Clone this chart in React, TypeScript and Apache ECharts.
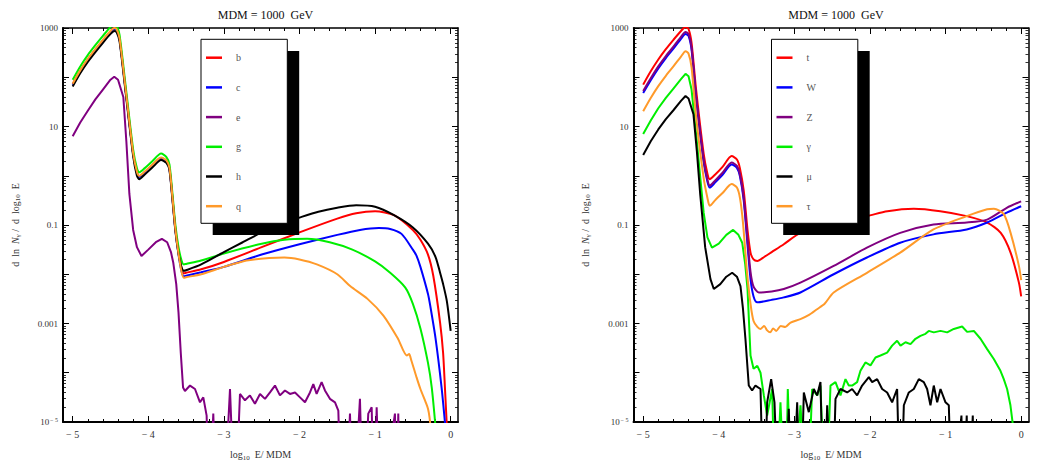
import React, { useEffect, useRef } from "react";
import * as echarts from "echarts";

// ---------- data (x = log10 E/MDM, value = log10 of dN/dlog10E) ----------
const TITLE = "MDM = 1000  GeV";
const X_MAJOR = [-5, -4, -3, -2, -1, 0];
const X_MINOR = [-4.8, -4.6, -4.4, -4.2, -3.8, -3.6, -3.4, -3.2, -2.8, -2.6, -2.4, -2.2, -1.8, -1.6, -1.4, -1.2, -0.8, -0.6, -0.4, -0.2];
const Y_LABELS: Record<string, string> = { "3": "1000", "1": "10", "-1": "0.1", "-3": "0.001", "-5": "10{sup|− 5}" };

const LEFT_NAMES = ["b", "c", "e", "g", "h", "q"];
const RIGHT_NAMES = ["t", "W", "Z", "γ", "μ", "τ"];
const COLORS = ["#ff0000", "#0000ff", "#800080", "#00ee00", "#000000", "#ff9a2a"];
const RIGHT_COLORS = ["#ff0000", "#0000ff", "#800080", "#00ee00", "#000000", "#ff9a2a"];

const seriesB: [number, number][] = [[-5.0,1.86],[-4.9,2.13],[-4.8,2.36],[-4.7,2.56],[-4.6,2.75],[-4.5,2.93],[-4.45,2.99],[-4.42,2.97],[-4.38,2.78],[-4.3,1.75],[-4.2,0.45],[-4.15,0.07],[-4.12,-0.01],[-4.05,0.07],[-3.95,0.21],[-3.83,0.36],[-3.76,0.3],[-3.72,0.15],[-3.68,-0.45],[-3.64,-1.1],[-3.6,-1.55],[-3.56,-1.88],[-3.53,-1.98],[-3.5,-1.97],[-3.3,-1.9],[-3.0,-1.75],[-2.5,-1.45],[-2.0,-1.15],[-1.5,-0.87],[-1.25,-0.76],[-1.0,-0.72],[-0.75,-0.8],[-0.5,-1.1],[-0.4,-1.3],[-0.3,-1.6],[-0.23,-2.03],[-0.14,-2.98],[-0.1,-3.6],[-0.075,-4.33],[-0.05,-5.1]];
const seriesC: [number, number][] = [[-5.0,1.85],[-4.9,2.12],[-4.8,2.35],[-4.7,2.55],[-4.6,2.74],[-4.5,2.92],[-4.45,2.98],[-4.42,2.96],[-4.38,2.77],[-4.3,1.74],[-4.2,0.44],[-4.15,0.06],[-4.12,-0.02],[-4.05,0.06],[-3.95,0.2],[-3.83,0.35],[-3.76,0.29],[-3.72,0.14],[-3.68,-0.46],[-3.64,-1.12],[-3.6,-1.6],[-3.56,-1.94],[-3.53,-2.04],[-3.5,-2.03],[-3.3,-1.96],[-3.0,-1.85],[-2.5,-1.6],[-2.0,-1.39],[-1.5,-1.2],[-1.2,-1.1],[-0.95,-1.06],[-0.8,-1.08],[-0.65,-1.18],[-0.5,-1.5],[-0.45,-1.63],[-0.4,-1.85],[-0.3,-2.4],[-0.27,-2.64],[-0.2,-3.3],[-0.12,-4.3],[-0.07,-5.1]];
const seriesE: [number, number][] = [[-5.0,0.8],[-4.9,1.08],[-4.8,1.32],[-4.7,1.55],[-4.6,1.75],[-4.5,1.95],[-4.45,2.01],[-4.4,1.95],[-4.33,1.6],[-4.29,0.7],[-4.25,-0.37],[-4.2,-1.1],[-4.15,-1.45],[-4.09,-1.63],[-4.0,-1.5],[-3.9,-1.35],[-3.82,-1.28],[-3.75,-1.35],[-3.7,-1.55],[-3.67,-1.76],[-3.63,-2.2],[-3.6,-2.78],[-3.57,-3.6],[-3.54,-4.3],[-3.515,-4.37],[-3.448,-4.26],[-3.382,-4.33],[-3.316,-4.6],[-3.272,-4.5],[-3.228,-4.87],[-3.193,-7],[-3.14,-4.83],[-3.096,-7],[-3.007,-7],[-2.919,-4.33],[-2.853,-7],[-2.787,-4.43],[-2.721,-4.56],[-2.655,-4.46],[-2.589,-4.63],[-2.522,-4.43],[-2.456,-4.53],[-2.39,-4.4],[-2.324,-4.26],[-2.258,-4.46],[-2.192,-4.36],[-2.126,-4.43],[-2.059,-4.4],[-1.993,-4.5],[-1.927,-4.6],[-1.861,-4.4],[-1.817,-4.23],[-1.773,-4.43],[-1.707,-4.19],[-1.663,-4.36],[-1.597,-4.53],[-1.53,-4.6],[-1.486,-4.77],[-1.442,-7],[-1.39,-7],[-1.332,-4.83],[-1.288,-7],[-1.2,-4.53],[-1.156,-7],[-1.09,-4.83],[-1.045,-4.7],[-1.01,-7],[-0.979,-4.7],[-0.935,-7],[-0.737,-4.83],[-0.715,-7],[-0.693,-4.83],[-0.671,-7]];
const seriesG: [number, number][] = [[-5.0,1.95],[-4.9,2.22],[-4.8,2.45],[-4.7,2.65],[-4.6,2.84],[-4.5,3.02],[-4.45,3.07],[-4.42,3.05],[-4.38,2.86],[-4.3,1.83],[-4.2,0.53],[-4.15,0.15],[-4.12,0.07],[-4.05,0.15],[-3.95,0.29],[-3.83,0.45],[-3.76,0.38],[-3.72,0.23],[-3.68,-0.37],[-3.64,-1.02],[-3.6,-1.45],[-3.56,-1.72],[-3.53,-1.8],[-3.5,-1.79],[-3.3,-1.72],[-3.0,-1.58],[-2.5,-1.38],[-2.2,-1.3],[-1.9,-1.28],[-1.6,-1.35],[-1.3,-1.5],[-1.0,-1.74],[-0.8,-1.97],[-0.6,-2.27],[-0.5,-2.6],[-0.4,-3.1],[-0.3,-3.8],[-0.25,-4.3],[-0.2,-5.1]];
const seriesH: [number, number][] = [[-5.0,1.81],[-4.9,2.08],[-4.8,2.31],[-4.7,2.51],[-4.6,2.7],[-4.5,2.88],[-4.45,2.94],[-4.42,2.92],[-4.38,2.73],[-4.3,1.7],[-4.2,0.4],[-4.15,0.0],[-4.12,-0.07],[-4.05,0.02],[-3.95,0.16],[-3.83,0.32],[-3.76,0.26],[-3.72,0.11],[-3.68,-0.49],[-3.64,-1.14],[-3.6,-1.58],[-3.56,-1.86],[-3.53,-1.93],[-3.5,-1.92],[-3.3,-1.8],[-3.0,-1.55],[-2.75,-1.35],[-2.5,-1.15],[-2.25,-0.98],[-2.0,-0.85],[-1.75,-0.73],[-1.5,-0.65],[-1.25,-0.6],[-1.0,-0.63],[-0.75,-0.8],[-0.5,-1.05],[-0.3,-1.38],[-0.2,-1.65],[-0.14,-1.97],[-0.1,-2.2],[-0.05,-2.55],[0.0,-3.15]];
const seriesQ: [number, number][] = [[-5.0,1.87],[-4.9,2.14],[-4.8,2.37],[-4.7,2.57],[-4.6,2.76],[-4.5,2.94],[-4.45,3.0],[-4.42,2.98],[-4.38,2.79],[-4.3,1.76],[-4.2,0.46],[-4.15,0.08],[-4.12,0.0],[-4.05,0.08],[-3.95,0.22],[-3.83,0.37],[-3.76,0.31],[-3.72,0.16],[-3.68,-0.44],[-3.64,-1.1],[-3.6,-1.58],[-3.56,-1.95],[-3.53,-2.07],[-3.5,-2.06],[-3.3,-2.0],[-3.0,-1.85],[-2.7,-1.72],[-2.4,-1.67],[-2.2,-1.66],[-2.0,-1.7],[-1.77,-1.8],[-1.5,-2.0],[-1.33,-2.24],[-1.1,-2.5],[-0.89,-2.84],[-0.7,-3.3],[-0.58,-3.65],[-0.55,-3.62],[-0.52,-3.75],[-0.45,-4.1],[-0.4,-4.33],[-0.33,-4.6],[-0.3,-4.73],[-0.28,-4.9],[-0.26,-5.2]];

const seriesT: [number, number][] = [[-5.0,1.85],[-4.9,2.12],[-4.8,2.36],[-4.7,2.57],[-4.6,2.76],[-4.5,2.94],[-4.44,3.02],[-4.4,2.98],[-4.36,2.7],[-4.3,1.75],[-4.2,0.45],[-4.15,0.04],[-4.12,-0.07],[-4.05,0.02],[-3.95,0.18],[-3.83,0.4],[-3.76,0.33],[-3.72,0.15],[-3.67,-0.3],[-3.62,-1.1],[-3.58,-1.56],[-3.54,-1.7],[-3.49,-1.73],[-3.4,-1.65],[-3.3,-1.55],[-3.14,-1.39],[-2.92,-1.16],[-2.5,-0.96],[-2.04,-0.82],[-1.77,-0.72],[-1.42,-0.67],[-1.07,-0.72],[-0.72,-0.82],[-0.45,-0.95],[-0.27,-1.16],[-0.14,-1.56],[-0.03,-2.17],[0.0,-2.45]];
const seriesW: [number, number][] = [[-5.0,1.68],[-4.9,1.94],[-4.8,2.18],[-4.7,2.39],[-4.6,2.58],[-4.5,2.78],[-4.44,2.88],[-4.4,2.84],[-4.36,2.56],[-4.3,1.58],[-4.2,0.28],[-4.15,-0.12],[-4.12,-0.24],[-4.05,-0.14],[-3.95,0.02],[-3.83,0.23],[-3.76,0.16],[-3.72,-0.01],[-3.67,-0.5],[-3.62,-1.4],[-3.58,-2.1],[-3.54,-2.45],[-3.49,-2.57],[-3.3,-2.52],[-3.14,-2.47],[-2.92,-2.37],[-2.48,-2.0],[-2.04,-1.66],[-1.6,-1.36],[-1.16,-1.19],[-0.72,-1.09],[-0.45,-0.95],[-0.19,-0.75],[0.0,-0.62]];
const seriesZ: [number, number][] = [[-5.0,1.72],[-4.9,1.98],[-4.8,2.22],[-4.7,2.43],[-4.6,2.62],[-4.5,2.82],[-4.44,2.92],[-4.4,2.88],[-4.36,2.6],[-4.3,1.62],[-4.2,0.32],[-4.15,-0.08],[-4.12,-0.2],[-4.05,-0.1],[-3.95,0.06],[-3.83,0.27],[-3.76,0.2],[-3.72,0.03],[-3.67,-0.45],[-3.62,-1.3],[-3.58,-1.95],[-3.54,-2.25],[-3.47,-2.37],[-3.3,-2.35],[-3.14,-2.3],[-2.92,-2.17],[-2.48,-1.83],[-2.04,-1.46],[-1.6,-1.16],[-1.16,-0.99],[-0.72,-0.95],[-0.45,-0.89],[-0.19,-0.65],[0.0,-0.52]];
const seriesGamma: [number, number][] = [[-5.0,0.85],[-4.9,1.12],[-4.8,1.37],[-4.7,1.58],[-4.6,1.77],[-4.5,1.96],[-4.44,2.07],[-4.4,2.02],[-4.36,1.75],[-4.3,0.85],[-4.25,0.05],[-4.2,-0.75],[-4.15,-1.25],[-4.09,-1.46],[-4.0,-1.38],[-3.9,-1.2],[-3.81,-1.1],[-3.74,-1.2],[-3.69,-1.36],[-3.65,-1.8],[-3.62,-2.3],[-3.58,-3.65],[-3.54,-3.92],[-3.49,-3.86],[-3.448,-4.0],[-3.404,-4.46],[-3.36,-4.87],[-3.294,-4.33],[-3.25,-7],[-3.184,-4.6],[-3.118,-7],[-3.087,-4.33],[-3.03,-7],[-2.919,-4.66],[-2.831,-7],[-2.765,-4.33],[-2.699,-4.46],[-2.655,-4.26],[-2.589,-7],[-2.522,-4.26],[-2.456,-4.19],[-2.39,-4.46],[-2.324,-4.13],[-2.28,-4.26],[-2.236,-4.26],[-2.17,-4.19],[-2.126,-3.96],[-2.06,-3.79],[-1.993,-3.85],[-1.927,-3.69],[-1.861,-3.65],[-1.773,-3.59],[-1.707,-3.45],[-1.641,-3.35],[-1.596,-3.45],[-1.53,-3.38],[-1.464,-3.42],[-1.398,-3.31],[-1.332,-3.25],[-1.266,-3.21],[-1.222,-3.15],[-1.156,-3.18],[-1.067,-3.15],[-0.979,-3.18],[-0.891,-3.11],[-0.781,-3.06],[-0.715,-3.17],[-0.626,-3.15],[-0.538,-3.31],[-0.45,-3.52],[-0.362,-3.72],[-0.274,-3.96],[-0.23,-4.13],[-0.186,-4.33],[-0.142,-4.66],[-0.106,-5.1]];
const seriesMu: [number, number][] = [[-5.0,0.42],[-4.9,0.7],[-4.8,0.94],[-4.7,1.15],[-4.6,1.33],[-4.5,1.52],[-4.44,1.62],[-4.4,1.57],[-4.335,1.25],[-4.29,0.5],[-4.246,-0.37],[-4.18,-1.45],[-4.11,-2.1],[-4.066,-2.3],[-3.98,-2.2],[-3.9,-2.05],[-3.823,-1.97],[-3.76,-2.05],[-3.713,-2.24],[-3.68,-2.7],[-3.647,-3.32],[-3.603,-4.26],[-3.559,-4.36],[-3.515,-4.26],[-3.448,-4.33],[-3.404,-7],[-3.36,-4.6],[-3.307,-4.13],[-3.263,-4.6],[-3.206,-7],[-3.14,-7],[-3.074,-4.73],[-3.03,-7],[-2.963,-4.6],[-2.919,-7],[-2.875,-4.4],[-2.809,-4.8],[-2.743,-4.33],[-2.699,-4.46],[-2.655,-4.19],[-2.61,-7],[-2.566,-4.66],[-2.5,-7],[-2.456,-4.53],[-2.39,-4.33],[-2.302,-4.4],[-2.236,-4.33],[-2.17,-4.46],[-2.104,-4.26],[-2.015,-4.09],[-1.971,-4.19],[-1.905,-4.13],[-1.839,-4.33],[-1.773,-4.4],[-1.707,-4.6],[-1.641,-4.33],[-1.596,-7],[-1.552,-4.66],[-1.486,-4.4],[-1.42,-4.33],[-1.354,-4.13],[-1.288,-4.19],[-1.244,-4.33],[-1.2,-4.66],[-1.156,-4.26],[-1.111,-4.6],[-1.067,-4.33],[-1.001,-4.6],[-0.957,-4.66],[-0.913,-7],[-0.79,-4.87],[-0.77,-7],[-0.72,-4.87],[-0.7,-7],[-0.64,-4.87],[-0.62,-7]];
const seriesTau: [number, number][] = [[-5.0,1.31],[-4.9,1.58],[-4.8,1.82],[-4.7,2.03],[-4.6,2.22],[-4.5,2.42],[-4.44,2.53],[-4.4,2.48],[-4.36,2.2],[-4.3,1.2],[-4.2,-0.05],[-4.15,-0.45],[-4.12,-0.61],[-4.05,-0.5],[-3.95,-0.35],[-3.83,-0.17],[-3.76,-0.24],[-3.72,-0.45],[-3.68,-0.95],[-3.63,-1.9],[-3.58,-2.6],[-3.54,-2.95],[-3.49,-3.07],[-3.45,-3.11],[-3.4,-3.05],[-3.36,-3.14],[-3.32,-3.18],[-3.28,-3.1],[-3.24,-3.15],[-3.18,-3.05],[-3.12,-3.07],[-3.05,-2.98],[-2.92,-2.91],[-2.8,-2.82],[-2.7,-2.71],[-2.6,-2.6],[-2.48,-2.37],[-2.04,-1.97],[-1.6,-1.56],[-1.16,-1.09],[-0.72,-0.82],[-0.45,-0.68],[-0.36,-0.67],[-0.23,-0.78],[-0.14,-1.16],[-0.03,-1.83],[0.0,-2.12]];

const LEFT_DATA = [seriesB, seriesC, seriesE, seriesG, seriesH, seriesQ];
const RIGHT_DATA = [seriesT, seriesW, seriesZ, seriesGamma, seriesMu, seriesTau];
const NOISY = ["e", "γ", "μ"];

// ---------- layout ----------
const FONT = "'Liberation Serif', 'DejaVu Serif', serif";
const X_MIN = -5.128;
const X_MAX = 0.097;
const GRIDS = [{ left: 63, top: 28, width: 395, height: 395 }, { left: 633.5, top: 28, width: 395, height: 395 }];
const LEGEND_BOX = [{ x: 201, y: 39.3 }, { x: 771.5, y: 39.3 }];

const toPoints = (arr: [number, number][]) => arr.map(([x, e]) => [x, Math.pow(10, e)]);

function xAxes(gi: number) {
  const base = { gridIndex: gi, type: "value", min: X_MIN, max: X_MAX, splitLine: { show: false } };
  const tickStyle = { color: "#000", width: 1 };
  return [
    {
      ...base, position: "bottom",
      axisLine: { onZero: false, lineStyle: { color: "#000", width: 2 } },
      axisTick: { inside: true, length: 6, customValues: X_MAJOR, lineStyle: tickStyle },
      axisLabel: {
        customValues: X_MAJOR, margin: 7, fontFamily: FONT, fontSize: 10, color: "#333",
        formatter: (v: number) => (v === 0 ? "0" : "− " + Math.abs(v)),
      },
      name: "log{sub|10}  E/ MDM", nameLocation: "middle", nameGap: 26,
      nameTextStyle: { fontFamily: FONT, fontSize: 10, color: "#333", rich: { sub: { fontSize: 7, fontFamily: FONT, color: "#333", verticalAlign: "bottom", padding: [6, 0, 0, 0] } } },
    },
    { ...base, position: "bottom", axisLine: { show: false }, axisTick: { inside: true, length: 3, customValues: X_MINOR, lineStyle: tickStyle }, axisLabel: { show: false } },
    { ...base, position: "top", axisLine: { onZero: false, lineStyle: { color: "#000", width: 1.5 } }, axisTick: { inside: true, length: 6, customValues: X_MAJOR, lineStyle: tickStyle }, axisLabel: { show: false } },
    { ...base, position: "top", axisLine: { show: false }, axisTick: { inside: true, length: 3, customValues: X_MINOR, lineStyle: tickStyle }, axisLabel: { show: false } },
  ];
}

function yAxes(gi: number) {
  const base = {
    gridIndex: gi, type: "log", logBase: 10, min: 1e-5, max: 1000,
    splitLine: { show: false }, minorSplitLine: { show: false },
    axisTick: { inside: true, length: 6, lineStyle: { color: "#000", width: 1 } },
    minorTick: { show: true, splitNumber: 9, length: 3, lineStyle: { color: "#000", width: 0.8 } },
  };
  return [
    {
      ...base, position: "left",
      axisLine: { onZero: false, lineStyle: { color: "#000", width: 2 } },
      axisLabel: {
        margin: 5, fontFamily: FONT, fontSize: 9, color: "#333",
        formatter: (v: number) => Y_LABELS[String(Math.round(Math.log10(v)))] ?? "",
        rich: { sup: { fontSize: 6, fontFamily: FONT, color: "#333", verticalAlign: "top", padding: [0, 0, 5, 1] } },
      },
      name: "d  ln  {i|N}{sub|γ} /  d  log{sub|10}  E", nameLocation: "middle", nameGap: 42, nameRotate: 90,
      nameTextStyle: {
        fontFamily: FONT, fontSize: 10, color: "#333",
        rich: {
          i: { fontStyle: "italic", fontFamily: FONT, fontSize: 10, color: "#333" },
          sub: { fontSize: 7, fontFamily: FONT, color: "#333", verticalAlign: "bottom", padding: [5, 0, 0, 0] },
        },
      },
    },
    { ...base, position: "right", axisLine: { onZero: false, lineStyle: { color: "#000", width: 1.5 } }, axisLabel: { show: false } },
  ];
}

function makeSeries(names: string[], data: [number, number][][], colors: string[], gi: number) {
  return names.map((name, i) => ({
    name, type: "line", xAxisIndex: gi * 4, yAxisIndex: gi * 2,
    data: toPoints(data[i]), showSymbol: false, symbol: "none", clip: true,
    smooth: NOISY.includes(name) ? false : 0.25,
    color: colors[i], lineStyle: { color: colors[i], width: 2 }, z: 2,
  }));
}

function legendFor(gi: number, names: string[]) {
  return {
    orient: "vertical", left: LEGEND_BOX[gi].x + 5, top: LEGEND_BOX[gi].y + 12.4, padding: 0,
    itemWidth: 16, itemHeight: 2.5, itemGap: 17.7, icon: "rect", selectedMode: false,
    data: names, z: 10,
    textStyle: { fontFamily: FONT, fontSize: 10, color: "#555", lineHeight: 12, padding: [0, 0, 0, 9] },
  };
}

function legendGraphics() {
  const out: any[] = [];
  LEGEND_BOX.forEach((b) => {
    out.push({ type: "rect", z: 5, shape: { x: b.x + 11.7, y: b.y + 11.7, width: 86.5, height: 184 }, style: { fill: "#000" } });
    out.push({ type: "rect", z: 6, shape: { x: b.x, y: b.y, width: 86.3, height: 184 }, style: { fill: "#fff", stroke: "#000", lineWidth: 1 } });
  });
  return out;
}

export default function App() {
  const ref = useRef<HTMLDivElement>(null);
  useEffect(() => {
    document.body.style.margin = "0";
    if (!ref.current) return;
    const chart = echarts.init(ref.current, null, { renderer: "svg" });
    chart.setOption({
      animation: false,
      backgroundColor: "#fff",
      title: GRIDS.map((g) => ({
        text: TITLE, left: g.left + g.width / 2, top: 4, textAlign: "center",
        textStyle: { fontFamily: FONT, fontSize: 12, fontWeight: "normal", color: "#111" },
      })),
      grid: GRIDS.map((g) => ({ ...g, containLabel: false })),
      xAxis: [...xAxes(0), ...xAxes(1)],
      yAxis: [...yAxes(0), ...yAxes(1)],
      legend: [legendFor(0, LEFT_NAMES), legendFor(1, RIGHT_NAMES)],
      graphic: legendGraphics(),
      series: [...makeSeries(LEFT_NAMES, LEFT_DATA, COLORS, 0), ...makeSeries(RIGHT_NAMES, RIGHT_DATA, RIGHT_COLORS, 1)],
    });
    return () => chart.dispose();
  }, []);
  return <div ref={ref} style={{ position: "fixed", left: 0, top: 0, width: 1045, height: 466, background: "#fff" }} />;
}
